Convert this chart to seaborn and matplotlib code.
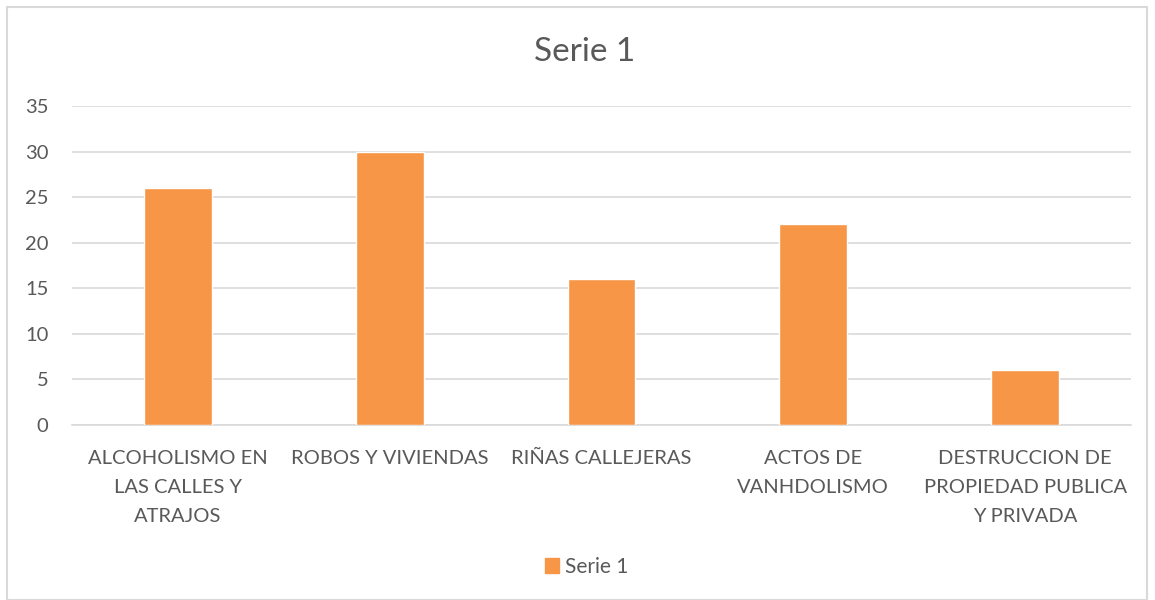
import matplotlib
matplotlib.use('Agg')
import matplotlib.pyplot as plt
import seaborn as sns
import pandas as pd
from matplotlib.patches import Rectangle, Patch

# Chart data
categorias = ['ALCOHOLISMO EN\nLAS CALLES Y\nATRAJOS', 'ROBOS Y VIVIENDAS', 'RIÑAS CALLEJERAS',
              'ACTOS DE\nVANHDOLISMO', 'DESTRUCCION DE\nPROPIEDAD PUBLICA\nY PRIVADA']
valores = [26, 30, 16, 22, 6]
serie = 'Serie 1'

df = pd.DataFrame({'categoria': categorias, 'valor': valores})

sns.set_style('white')
plt.rcParams['font.family'] = ['Lato', 'DejaVu Sans']
texto = '#595959'
naranja = '#F79646'

fig = plt.figure(figsize=(11.55, 6), dpi=100)
ax = fig.add_axes([0.0623, 0.2917, 0.917, 0.5317])

sns.barplot(data=df, x='categoria', y='valor', color=naranja, width=0.32,
            saturation=1, ax=ax, zorder=3)

ax.set_ylim(0, 35)
ax.set_yticks(range(0, 36, 5))
ax.yaxis.grid(True, color='#D9D9D9', linewidth=1.2, zorder=0)
ax.set_xlabel('')
ax.set_ylabel('')
for s in ['top', 'right', 'left']:
    ax.spines[s].set_visible(False)
ax.spines['bottom'].set_color('#D9D9D9')
ax.spines['bottom'].set_linewidth(1.2)
ax.tick_params(axis='both', length=0, labelsize=14.5, colors=texto)
ax.tick_params(axis='x', pad=18)
ax.tick_params(axis='y', pad=17)
for lbl in ax.get_xticklabels():
    lbl.set_linespacing(1.85)
    lbl.set_verticalalignment('top')

fig.text(0.5064, 0.913, serie, ha='center', va='center', fontsize=24, color=texto)

fig.legend(handles=[Patch(color=naranja, label=serie)], loc='center',
           bbox_to_anchor=(0.508, 0.055), frameon=False, fontsize=15,
           labelcolor=texto, handlelength=0.7, handleheight=0.7, handletextpad=0.3)

# outer chart border
fig.patches.append(Rectangle((7 / 1155, 0), (1147 - 7) / 1155, (600 - 7) / 600,
                             transform=fig.transFigure, fill=False,
                             edgecolor='#D9D9D9', linewidth=1.5))

fig.savefig('out.png', dpi=100)
